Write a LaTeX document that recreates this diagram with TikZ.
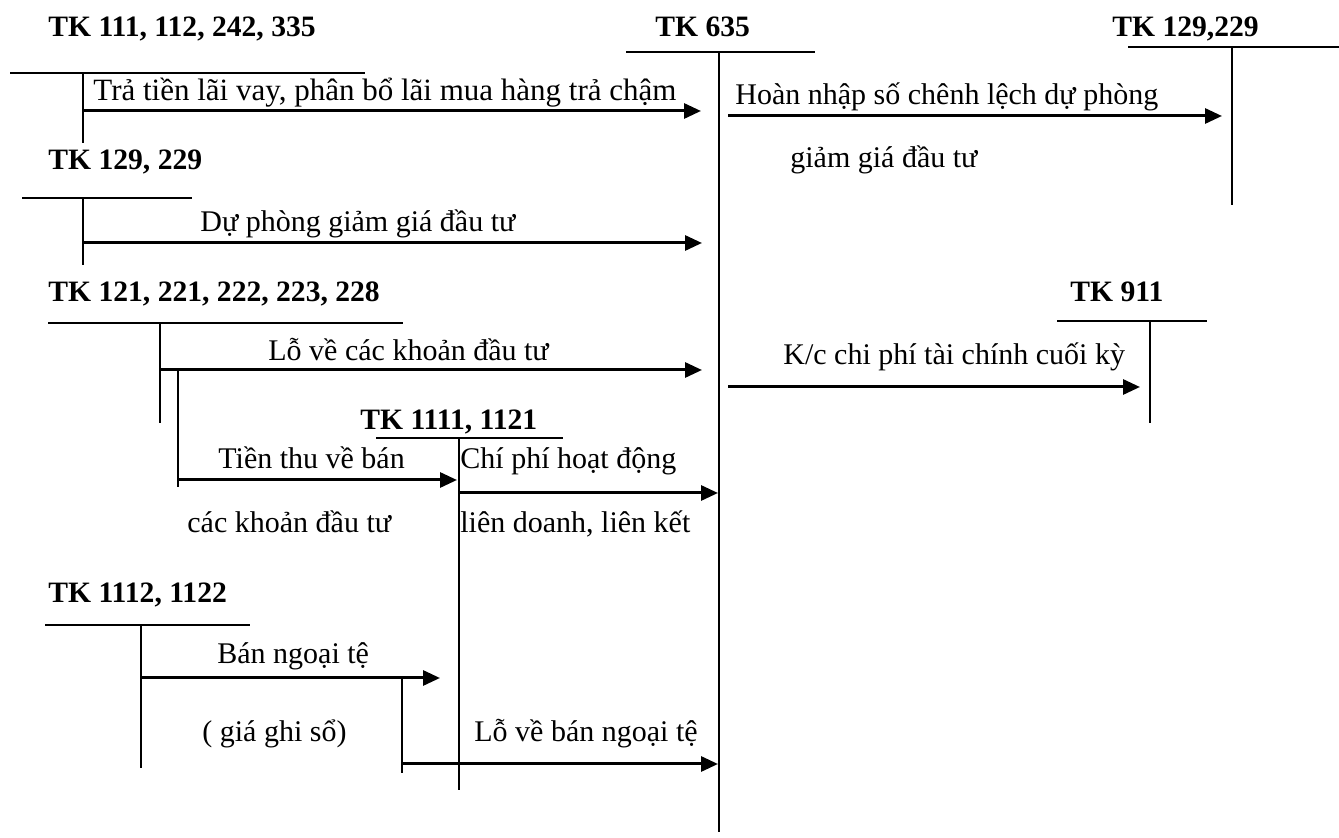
\documentclass[tikz,border=0pt]{standalone}
\usepackage{fontspec}
\setmainfont{Liberation Serif}
\usetikzlibrary{arrows.meta}
\begin{document}
\begin{tikzpicture}[x=0.5pt,y=-0.5pt,
  acct/.style={font=\bfseries\fontsize{14.8}{16}\selectfont, inner sep=0pt, anchor=base west},
  lbl/.style={font=\fontsize{15}{17}\selectfont, inner sep=0pt, anchor=base west},
  tline/.style={line width=1pt},
  flow/.style={line width=1.5pt, -{Triangle[length=8.5pt,width=7.5pt]}}]
\useasboundingbox[fill=white] (0,0) rectangle (1339,838);

% ---- account titles
\node[acct] (t111)  at (48,37)   {TK 111, 112, 242, 335};
\node[acct] (t635)  at (655,37)  {TK 635};
\node[acct] (t129r) at (1112,37) {TK 129,229};
\node[acct] (t129l) at (48,170)  {TK 129, 229};
\node[acct] (t121)  at (48,302)  {TK 121, 221, 222, 223, 228};
\node[acct] (t911)  at (1070,302) {TK 911};
\node[acct] (t1111) at (360,430) {TK 1111, 1121};
\node[acct] (t1112) at (48,603)  {TK 1112, 1122};

% ---- T-account lines
\coordinate (a111l) at (10,73);   \coordinate (a111r) at (365,73);
\coordinate (a111t) at (83,73);   \coordinate (a111b) at (83,143);
\coordinate (a635l) at (626,52);  \coordinate (a635r) at (815,52);
\coordinate (a635t) at (719,52);  \coordinate (a635b) at (719,832);
\coordinate (a129rl) at (1128,47); \coordinate (a129rr) at (1339,47);
\coordinate (a129rt) at (1232,47); \coordinate (a129rb) at (1232,205);
\coordinate (a129ll) at (22,198); \coordinate (a129lr) at (192,198);
\coordinate (a129lt) at (83,198); \coordinate (a129lb) at (83,265);
\coordinate (a121l) at (48,323);  \coordinate (a121r) at (403,323);
\coordinate (a121t) at (160,323); \coordinate (a121b) at (160,423);
\coordinate (a911l) at (1057,321); \coordinate (a911r) at (1207,321);
\coordinate (a911t) at (1150,321); \coordinate (a911b) at (1150,423);
\coordinate (a1111l) at (376,438); \coordinate (a1111r) at (563,438);
\coordinate (a1111t) at (459,438); \coordinate (a1111b) at (459,790);
\coordinate (a1112l) at (45,625); \coordinate (a1112r) at (250,625);
\coordinate (a1112t) at (141,625); \coordinate (a1112b) at (141,768);

\foreach \a in {111,635,129r,129l,121,911,1111,1112}
  \draw[tline] (a\a l) -- (a\a r) (a\a t) -- (a\a b);

% branch stubs
\coordinate (b121t) at (178,370); \coordinate (b121b) at (178,487);
\coordinate (b1112t) at (402,678); \coordinate (b1112b) at (402,773);
\draw[tline] (b121t) -- (b121b);
\draw[tline] (b1112t) -- (b1112b);

% ---- flows
\coordinate (f1s) at (83,111);   \coordinate (f1e) at (701,111);
\coordinate (f2s) at (728,116);  \coordinate (f2e) at (1222,116);
\coordinate (f3s) at (83,243);   \coordinate (f3e) at (702,243);
\coordinate (f4s) at (160,370);  \coordinate (f4e) at (702,370);
\coordinate (f5s) at (178,480);  \coordinate (f5e) at (457,480);
\coordinate (f6s) at (459,493);  \coordinate (f6e) at (718,493);
\coordinate (f7s) at (728,387);  \coordinate (f7e) at (1140,387);
\coordinate (f8s) at (141,678);  \coordinate (f8e) at (440,678);
\coordinate (f9s) at (402,764);  \coordinate (f9e) at (718,764);
\foreach \f in {1,...,9}
  \draw[flow] (f\f s) -- (f\f e);

% ---- flow labels
\node[lbl,font=\fontsize{15.5}{17}\selectfont] (l1) at (93,101) {Trả tiền lãi vay, phân bổ lãi mua hàng trả chậm};
\node[lbl] (l2)  at (735,105) {Hoàn nhập số chênh lệch dự phòng};
\node[lbl] (l2b) at (790,168) {giảm giá đầu tư};
\node[lbl] (l3)  at (200,232) {Dự phòng giảm giá đầu tư};
\node[lbl] (l4)  at (268,361) {Lỗ về các khoản đầu tư};
\node[lbl] (l7)  at (783,365) {K/c chi phí tài chính cuối kỳ};
\node[lbl] (l5)  at (218,469) {Tiền thu về bán};
\node[lbl] (l5b) at (187,533) {các khoản đầu tư};
\node[lbl] (l6)  at (460,469) {Chí phí hoạt động};
\node[lbl] (l6b) at (460,533) {liên doanh, liên kết};
\node[lbl] (l8)  at (217,664) {Bán ngoại tệ};
\node[lbl] (l8b) at (202,742) {( giá ghi sổ)};
\node[lbl] (l9)  at (474,742) {Lỗ về bán ngoại tệ};
\end{tikzpicture}
\end{document}
